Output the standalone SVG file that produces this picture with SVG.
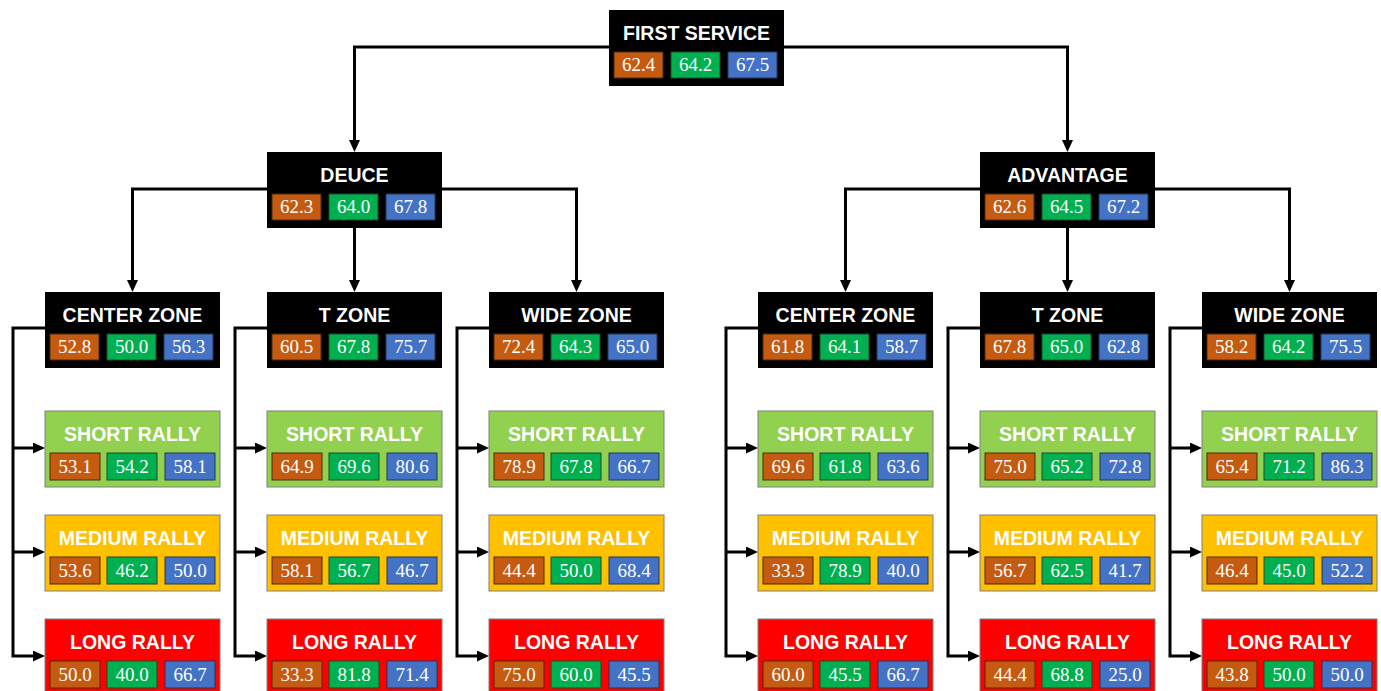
<svg xmlns="http://www.w3.org/2000/svg" width="1381" height="691" viewBox="0 0 1381 691">
<style>
.blk{fill:#000}
.sr{fill:#92D050;stroke:#808080;stroke-width:1}
.mr{fill:#FFC000;stroke:#808080;stroke-width:1}
.lr{fill:#FF0000;stroke:#808080;stroke-width:1}
.o{fill:#C55A11;stroke:#4a2a10;stroke-width:1}
.g{fill:#00B050;stroke:#1d4a2a;stroke-width:1}
.b{fill:#4472C4;stroke:#24365a;stroke-width:1}
.t{font-family:"Liberation Sans",Arial,sans-serif;font-weight:bold;font-size:19.5px;fill:#fff;text-anchor:middle}
.n{font-family:"Liberation Serif","Times New Roman",serif;font-size:19px;fill:#fff;text-anchor:middle}
.c{fill:none;stroke:#000;stroke-width:3;marker-end:url(#ah)}
</style>
<defs>
<marker id="ah" markerUnits="userSpaceOnUse" markerWidth="12" markerHeight="11" viewBox="0 0 12 11" refX="4" refY="5.5" orient="auto"><path d="M0,0 L12,5.5 L0,11 z" fill="#000"/></marker>
</defs>
<rect width="1381" height="691" fill="#fff"/>
<g id="connectors">
<path class="c" d="M609,47 H354.5 V144"/>
<path class="c" d="M784,47 H1067.5 V144"/>
<path class="c" d="M267,189 H132.5 V284"/>
<path class="c" d="M442,189 H576.5 V284"/>
<path class="c" d="M354.5,228 V284"/>
<path class="c" d="M980,189 H845.5 V284"/>
<path class="c" d="M1155,189 H1289.5 V284"/>
<path class="c" d="M1067.5,228 V284"/>
<path class="c" d="M45,328 H13 V656 H37"/><path class="c" d="M13,448 H37"/><path class="c" d="M13,552 H37"/>
<path class="c" d="M267,328 H235 V656 H259"/><path class="c" d="M235,448 H259"/><path class="c" d="M235,552 H259"/>
<path class="c" d="M489,328 H457 V656 H481"/><path class="c" d="M457,448 H481"/><path class="c" d="M457,552 H481"/>
<path class="c" d="M758,328 H726 V656 H750"/><path class="c" d="M726,448 H750"/><path class="c" d="M726,552 H750"/>
<path class="c" d="M980,328 H948 V656 H972"/><path class="c" d="M948,448 H972"/><path class="c" d="M948,552 H972"/>
<path class="c" d="M1202,328 H1170 V656 H1194"/><path class="c" d="M1170,448 H1194"/><path class="c" d="M1170,552 H1194"/>
</g>

<g id="first-service" transform="translate(609,10)"><rect class="blk" width="175" height="76"/><text class="t" x="87.5" y="30">FIRST SERVICE</text>
<rect class="o" x="5" y="42" width="49" height="26"/><text class="n" x="29.5" y="61">62.4</text>
<rect class="g" x="62" y="42" width="49" height="26"/><text class="n" x="86.5" y="61">64.2</text>
<rect class="b" x="119" y="42" width="49" height="26"/><text class="n" x="143.5" y="61">67.5</text></g>

<g id="deuce" transform="translate(267,152)"><rect class="blk" width="175" height="76"/><text class="t" x="87.5" y="30">DEUCE</text>
<rect class="o" x="5" y="42" width="49" height="26"/><text class="n" x="29.5" y="61">62.3</text>
<rect class="g" x="62" y="42" width="49" height="26"/><text class="n" x="86.5" y="61">64.0</text>
<rect class="b" x="119" y="42" width="49" height="26"/><text class="n" x="143.5" y="61">67.8</text></g>

<g id="advantage" transform="translate(980,152)"><rect class="blk" width="175" height="76"/><text class="t" x="87.5" y="30">ADVANTAGE</text>
<rect class="o" x="5" y="42" width="49" height="26"/><text class="n" x="29.5" y="61">62.6</text>
<rect class="g" x="62" y="42" width="49" height="26"/><text class="n" x="86.5" y="61">64.5</text>
<rect class="b" x="119" y="42" width="49" height="26"/><text class="n" x="143.5" y="61">67.2</text></g>

<!-- Deuce zones -->
<g id="d-center" transform="translate(45,292)"><rect class="blk" width="175" height="76"/><text class="t" x="87.5" y="30">CENTER ZONE</text>
<rect class="o" x="5" y="42" width="49" height="26"/><text class="n" x="29.5" y="61">52.8</text>
<rect class="g" x="62" y="42" width="49" height="26"/><text class="n" x="86.5" y="61">50.0</text>
<rect class="b" x="119" y="42" width="49" height="26"/><text class="n" x="143.5" y="61">56.3</text></g>
<g id="d-center-short" transform="translate(45,411)"><rect class="sr" width="175" height="76"/><text class="t" x="87.5" y="30">SHORT RALLY</text>
<rect class="o" x="5" y="42" width="50" height="27"/><text class="n" x="30" y="62">53.1</text>
<rect class="g" x="62" y="42" width="50" height="27"/><text class="n" x="87" y="62">54.2</text>
<rect class="b" x="120" y="42" width="50" height="27"/><text class="n" x="145" y="62">58.1</text></g>
<g id="d-center-medium" transform="translate(45,515)"><rect class="mr" width="175" height="76"/><text class="t" x="87.5" y="30">MEDIUM RALLY</text>
<rect class="o" x="5" y="42" width="50" height="27"/><text class="n" x="30" y="62">53.6</text>
<rect class="g" x="62" y="42" width="50" height="27"/><text class="n" x="87" y="62">46.2</text>
<rect class="b" x="120" y="42" width="50" height="27"/><text class="n" x="145" y="62">50.0</text></g>
<g id="d-center-long" transform="translate(45,619)"><rect class="lr" width="175" height="76"/><text class="t" x="87.5" y="30">LONG RALLY</text>
<rect class="o" x="5" y="42" width="50" height="27"/><text class="n" x="30" y="62">50.0</text>
<rect class="g" x="62" y="42" width="50" height="27"/><text class="n" x="87" y="62">40.0</text>
<rect class="b" x="120" y="42" width="50" height="27"/><text class="n" x="145" y="62">66.7</text></g>

<g id="d-t" transform="translate(267,292)"><rect class="blk" width="175" height="76"/><text class="t" x="87.5" y="30">T ZONE</text>
<rect class="o" x="5" y="42" width="49" height="26"/><text class="n" x="29.5" y="61">60.5</text>
<rect class="g" x="62" y="42" width="49" height="26"/><text class="n" x="86.5" y="61">67.8</text>
<rect class="b" x="119" y="42" width="49" height="26"/><text class="n" x="143.5" y="61">75.7</text></g>
<g id="d-t-short" transform="translate(267,411)"><rect class="sr" width="175" height="76"/><text class="t" x="87.5" y="30">SHORT RALLY</text>
<rect class="o" x="5" y="42" width="50" height="27"/><text class="n" x="30" y="62">64.9</text>
<rect class="g" x="62" y="42" width="50" height="27"/><text class="n" x="87" y="62">69.6</text>
<rect class="b" x="120" y="42" width="50" height="27"/><text class="n" x="145" y="62">80.6</text></g>
<g id="d-t-medium" transform="translate(267,515)"><rect class="mr" width="175" height="76"/><text class="t" x="87.5" y="30">MEDIUM RALLY</text>
<rect class="o" x="5" y="42" width="50" height="27"/><text class="n" x="30" y="62">58.1</text>
<rect class="g" x="62" y="42" width="50" height="27"/><text class="n" x="87" y="62">56.7</text>
<rect class="b" x="120" y="42" width="50" height="27"/><text class="n" x="145" y="62">46.7</text></g>
<g id="d-t-long" transform="translate(267,619)"><rect class="lr" width="175" height="76"/><text class="t" x="87.5" y="30">LONG RALLY</text>
<rect class="o" x="5" y="42" width="50" height="27"/><text class="n" x="30" y="62">33.3</text>
<rect class="g" x="62" y="42" width="50" height="27"/><text class="n" x="87" y="62">81.8</text>
<rect class="b" x="120" y="42" width="50" height="27"/><text class="n" x="145" y="62">71.4</text></g>

<g id="d-wide" transform="translate(489,292)"><rect class="blk" width="175" height="76"/><text class="t" x="87.5" y="30">WIDE ZONE</text>
<rect class="o" x="5" y="42" width="49" height="26"/><text class="n" x="29.5" y="61">72.4</text>
<rect class="g" x="62" y="42" width="49" height="26"/><text class="n" x="86.5" y="61">64.3</text>
<rect class="b" x="119" y="42" width="49" height="26"/><text class="n" x="143.5" y="61">65.0</text></g>
<g id="d-wide-short" transform="translate(489,411)"><rect class="sr" width="175" height="76"/><text class="t" x="87.5" y="30">SHORT RALLY</text>
<rect class="o" x="5" y="42" width="50" height="27"/><text class="n" x="30" y="62">78.9</text>
<rect class="g" x="62" y="42" width="50" height="27"/><text class="n" x="87" y="62">67.8</text>
<rect class="b" x="120" y="42" width="50" height="27"/><text class="n" x="145" y="62">66.7</text></g>
<g id="d-wide-medium" transform="translate(489,515)"><rect class="mr" width="175" height="76"/><text class="t" x="87.5" y="30">MEDIUM RALLY</text>
<rect class="o" x="5" y="42" width="50" height="27"/><text class="n" x="30" y="62">44.4</text>
<rect class="g" x="62" y="42" width="50" height="27"/><text class="n" x="87" y="62">50.0</text>
<rect class="b" x="120" y="42" width="50" height="27"/><text class="n" x="145" y="62">68.4</text></g>
<g id="d-wide-long" transform="translate(489,619)"><rect class="lr" width="175" height="76"/><text class="t" x="87.5" y="30">LONG RALLY</text>
<rect class="o" x="5" y="42" width="50" height="27"/><text class="n" x="30" y="62">75.0</text>
<rect class="g" x="62" y="42" width="50" height="27"/><text class="n" x="87" y="62">60.0</text>
<rect class="b" x="120" y="42" width="50" height="27"/><text class="n" x="145" y="62">45.5</text></g>

<!-- Advantage zones -->
<g id="a-center" transform="translate(758,292)"><rect class="blk" width="175" height="76"/><text class="t" x="87.5" y="30">CENTER ZONE</text>
<rect class="o" x="5" y="42" width="49" height="26"/><text class="n" x="29.5" y="61">61.8</text>
<rect class="g" x="62" y="42" width="49" height="26"/><text class="n" x="86.5" y="61">64.1</text>
<rect class="b" x="119" y="42" width="49" height="26"/><text class="n" x="143.5" y="61">58.7</text></g>
<g id="a-center-short" transform="translate(758,411)"><rect class="sr" width="175" height="76"/><text class="t" x="87.5" y="30">SHORT RALLY</text>
<rect class="o" x="5" y="42" width="50" height="27"/><text class="n" x="30" y="62">69.6</text>
<rect class="g" x="62" y="42" width="50" height="27"/><text class="n" x="87" y="62">61.8</text>
<rect class="b" x="120" y="42" width="50" height="27"/><text class="n" x="145" y="62">63.6</text></g>
<g id="a-center-medium" transform="translate(758,515)"><rect class="mr" width="175" height="76"/><text class="t" x="87.5" y="30">MEDIUM RALLY</text>
<rect class="o" x="5" y="42" width="50" height="27"/><text class="n" x="30" y="62">33.3</text>
<rect class="g" x="62" y="42" width="50" height="27"/><text class="n" x="87" y="62">78.9</text>
<rect class="b" x="120" y="42" width="50" height="27"/><text class="n" x="145" y="62">40.0</text></g>
<g id="a-center-long" transform="translate(758,619)"><rect class="lr" width="175" height="76"/><text class="t" x="87.5" y="30">LONG RALLY</text>
<rect class="o" x="5" y="42" width="50" height="27"/><text class="n" x="30" y="62">60.0</text>
<rect class="g" x="62" y="42" width="50" height="27"/><text class="n" x="87" y="62">45.5</text>
<rect class="b" x="120" y="42" width="50" height="27"/><text class="n" x="145" y="62">66.7</text></g>

<g id="a-t" transform="translate(980,292)"><rect class="blk" width="175" height="76"/><text class="t" x="87.5" y="30">T ZONE</text>
<rect class="o" x="5" y="42" width="49" height="26"/><text class="n" x="29.5" y="61">67.8</text>
<rect class="g" x="62" y="42" width="49" height="26"/><text class="n" x="86.5" y="61">65.0</text>
<rect class="b" x="119" y="42" width="49" height="26"/><text class="n" x="143.5" y="61">62.8</text></g>
<g id="a-t-short" transform="translate(980,411)"><rect class="sr" width="175" height="76"/><text class="t" x="87.5" y="30">SHORT RALLY</text>
<rect class="o" x="5" y="42" width="50" height="27"/><text class="n" x="30" y="62">75.0</text>
<rect class="g" x="62" y="42" width="50" height="27"/><text class="n" x="87" y="62">65.2</text>
<rect class="b" x="120" y="42" width="50" height="27"/><text class="n" x="145" y="62">72.8</text></g>
<g id="a-t-medium" transform="translate(980,515)"><rect class="mr" width="175" height="76"/><text class="t" x="87.5" y="30">MEDIUM RALLY</text>
<rect class="o" x="5" y="42" width="50" height="27"/><text class="n" x="30" y="62">56.7</text>
<rect class="g" x="62" y="42" width="50" height="27"/><text class="n" x="87" y="62">62.5</text>
<rect class="b" x="120" y="42" width="50" height="27"/><text class="n" x="145" y="62">41.7</text></g>
<g id="a-t-long" transform="translate(980,619)"><rect class="lr" width="175" height="76"/><text class="t" x="87.5" y="30">LONG RALLY</text>
<rect class="o" x="5" y="42" width="50" height="27"/><text class="n" x="30" y="62">44.4</text>
<rect class="g" x="62" y="42" width="50" height="27"/><text class="n" x="87" y="62">68.8</text>
<rect class="b" x="120" y="42" width="50" height="27"/><text class="n" x="145" y="62">25.0</text></g>

<g id="a-wide" transform="translate(1202,292)"><rect class="blk" width="175" height="76"/><text class="t" x="87.5" y="30">WIDE ZONE</text>
<rect class="o" x="5" y="42" width="49" height="26"/><text class="n" x="29.5" y="61">58.2</text>
<rect class="g" x="62" y="42" width="49" height="26"/><text class="n" x="86.5" y="61">64.2</text>
<rect class="b" x="119" y="42" width="49" height="26"/><text class="n" x="143.5" y="61">75.5</text></g>
<g id="a-wide-short" transform="translate(1202,411)"><rect class="sr" width="175" height="76"/><text class="t" x="87.5" y="30">SHORT RALLY</text>
<rect class="o" x="5" y="42" width="50" height="27"/><text class="n" x="30" y="62">65.4</text>
<rect class="g" x="62" y="42" width="50" height="27"/><text class="n" x="87" y="62">71.2</text>
<rect class="b" x="120" y="42" width="50" height="27"/><text class="n" x="145" y="62">86.3</text></g>
<g id="a-wide-medium" transform="translate(1202,515)"><rect class="mr" width="175" height="76"/><text class="t" x="87.5" y="30">MEDIUM RALLY</text>
<rect class="o" x="5" y="42" width="50" height="27"/><text class="n" x="30" y="62">46.4</text>
<rect class="g" x="62" y="42" width="50" height="27"/><text class="n" x="87" y="62">45.0</text>
<rect class="b" x="120" y="42" width="50" height="27"/><text class="n" x="145" y="62">52.2</text></g>
<g id="a-wide-long" transform="translate(1202,619)"><rect class="lr" width="175" height="76"/><text class="t" x="87.5" y="30">LONG RALLY</text>
<rect class="o" x="5" y="42" width="50" height="27"/><text class="n" x="30" y="62">43.8</text>
<rect class="g" x="62" y="42" width="50" height="27"/><text class="n" x="87" y="62">50.0</text>
<rect class="b" x="120" y="42" width="50" height="27"/><text class="n" x="145" y="62">50.0</text></g>
</svg>
